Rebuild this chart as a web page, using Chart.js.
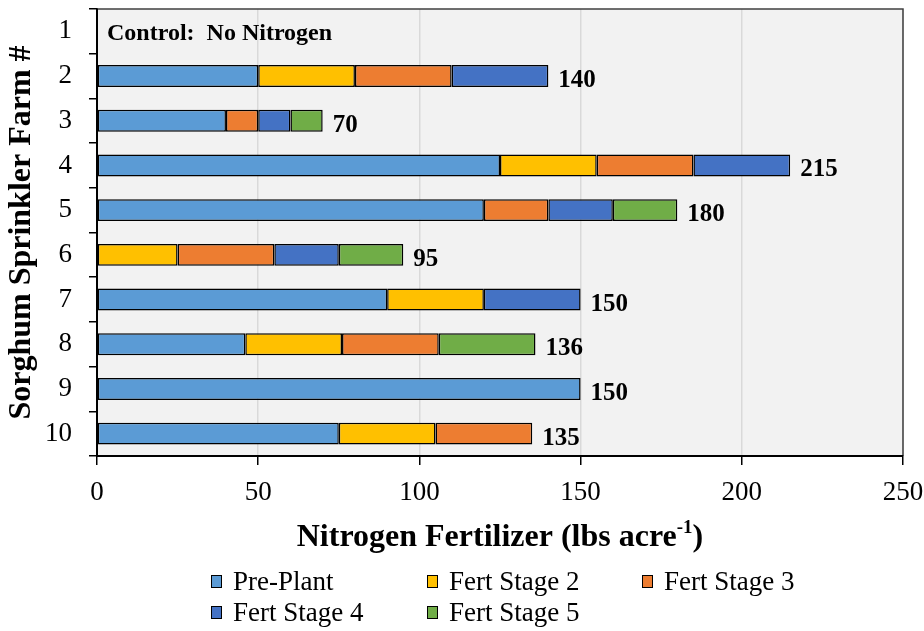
<!DOCTYPE html>
<html>
<head>
<meta charset="utf-8">
<script src="https://cdn.jsdelivr.net/npm/chart.js@4.4.1/dist/chart.umd.min.js"></script>
<style>
  html, body { margin: 0; padding: 0; background: #fff; }
  #wrap { position: relative; width: 924px; height: 631px; }
  #legend { position: absolute; left: 211px; top: 566px; display: grid;
    grid-template-columns: 216px 215px 215px; row-gap: 0px;
    font-family: "Liberation Serif", "Times New Roman", serif; font-size: 27px; color: #000; }
  .li { display: flex; align-items: center; height: 31px; white-space: nowrap; }
  .sw { width: 9px; height: 11px; border: 1.5px solid #000; margin-right: 11px; }
</style>
</head>
<body>
<div id="wrap">
  <canvas id="c" width="924" height="631"></canvas>
  <div id="legend"></div>
</div>
<script>
const farms = ['1','2','3','4','5','6','7','8','9','10'];
const seriesNames = ['Pre-Plant','Fert Stage 2','Fert Stage 3','Fert Stage 4','Fert Stage 5'];
const prePlant = [null, 50, 40, 125, 120, null, 90, 46, 150, 75];
const stage2   = [null, 30, null, 30, null, 25, 30, 30, null, 30];
const stage3   = [null, 30, 10, 30, 20, 30, null, 30, null, 30];
const stage4   = [null, 30, 10, 30, 20, 20, 30, null, null, null];
const stage5   = [null, null, 10, null, 20, 20, null, 30, null, null];
const xTicks = [0, 50, 100, 150, 200, 250];
const controlNote = 'Control:  No Nitrogen';
const xTitle = 'Nitrogen Fertilizer (lbs acre';
const xTitleSup = '-1';
const yTitle = 'Sorghum Sprinkler Farm #';

const colors = ['#5B9BD5', '#FFC000', '#ED7D31', '#4472C4', '#70AD47'];
const serif = '"Liberation Serif", "Times New Roman", serif';
const values = [prePlant, stage2, stage3, stage4, stage5];

const datasets = values.map((v, i) => ({
  label: seriesNames[i],
  data: v,
  backgroundColor: colors[i],
  borderColor: '#000',
  borderWidth: 1.5,
  borderSkipped: false,
  barPercentage: 0.49,
  categoryPercentage: 1.0
}));

const decor = {
  id: 'decor',
  beforeDraw(chart) {
    const a = chart.chartArea, ctx = chart.ctx;
    ctx.save();
    ctx.fillStyle = '#F2F2F2';
    ctx.fillRect(a.left, a.top, a.right - a.left, a.bottom - a.top);
    ctx.restore();
  },
  afterDatasetsDraw(chart) {
    const a = chart.chartArea, ctx = chart.ctx;
    ctx.save();
    ctx.strokeStyle = '#404040';
    ctx.lineWidth = 1.5;
    ctx.beginPath();
    ctx.moveTo(a.left, a.top); ctx.lineTo(a.right, a.top); ctx.lineTo(a.right, a.bottom);
    ctx.stroke();
    ctx.strokeStyle = '#000';
    ctx.lineWidth = 2;
    ctx.beginPath();
    ctx.moveTo(a.left, a.top); ctx.lineTo(a.left, a.bottom); ctx.lineTo(a.right, a.bottom);
    ctx.stroke();

    const xs = chart.scales.x, ys = chart.scales.y;
    ctx.fillStyle = '#000';
    ctx.font = 'bold 25px ' + serif;
    ctx.textAlign = 'left';
    ctx.textBaseline = 'alphabetic';
    farms.forEach((f, i) => {
      const total = values.reduce((s, arr) => s + (arr[i] || 0), 0);
      if (total > 0) {
        const x = xs.getPixelForValue(total) + 10;
        const y = ys.getPixelForValue(i) + 11;
        ctx.fillText(String(total), x, y);
      }
    });
    ctx.font = 'bold 24px ' + serif;
    ctx.fillText(controlNote, a.left + 10, ys.getPixelForValue(0) + 9);

    const big = 'bold 32px ' + serif, small = 'bold 19px ' + serif;
    ctx.font = big;
    const w1 = ctx.measureText(xTitle).width;
    ctx.font = small;
    const w2 = ctx.measureText(xTitleSup).width;
    ctx.font = big;
    const w3 = ctx.measureText(')').width;
    const cx = (a.left + a.right) / 2;
    const x0 = cx - (w1 + w2 + w3) / 2;
    const by = 546;
    ctx.fillText(xTitle, x0, by);
    ctx.font = small;
    ctx.fillText(xTitleSup, x0 + w1, by - 13);
    ctx.font = big;
    ctx.fillText(')', x0 + w1 + w2, by);

    ctx.translate(22, (a.top + a.bottom) / 2);
    ctx.rotate(-Math.PI / 2);
    ctx.textAlign = 'center';
    ctx.textBaseline = 'middle';
    ctx.font = big;
    ctx.fillText(yTitle, 0, 0);
    ctx.restore();
  }
};

const chart = new Chart(document.getElementById('c'), {
  type: 'bar',
  data: { labels: farms, datasets },
  options: {
    indexAxis: 'y',
    responsive: false,
    devicePixelRatio: 1,
    animation: false,
    layout: { padding: { left: 0, right: 21, top: 9, bottom: 115 } },
    plugins: { legend: { display: false }, tooltip: { enabled: false } },
    scales: {
      y: {
        stacked: true,
        afterFit: s => { s.width = 97; s.paddingTop = 0; s.paddingBottom = 0; },
        grid: { offset: true, drawOnChartArea: false, tickLength: 8, color: '#000', lineWidth: 1.5 },
        border: { display: true, color: '#000', width: 2 },
        ticks: { color: '#000', padding: 17, font: { family: serif, size: 27 } }
      },
      x: {
        stacked: true,
        min: 0, max: 250,
        afterBuildTicks: s => { s.ticks = xTicks.map(v => ({ value: v })); },
        afterFit: s => { s.height = 60; s.paddingLeft = 0; s.paddingRight = 0; },
        grid: { color: '#D9D9D9', lineWidth: 1.5, tickColor: '#000', tickLength: 9 },
        border: { display: true, color: '#000', width: 2 },
        ticks: { color: '#000', padding: 12, font: { family: serif, size: 27 } }
      }
    }
  },
  plugins: [decor]
});

const leg = document.getElementById('legend');
chart.data.datasets.forEach(ds => {
  const d = document.createElement('div');
  d.className = 'li';
  const sw = document.createElement('span');
  sw.className = 'sw';
  sw.style.background = ds.backgroundColor;
  const t = document.createElement('span');
  t.textContent = ds.label;
  d.appendChild(sw); d.appendChild(t);
  leg.appendChild(d);
});
</script>
</body>
</html>
